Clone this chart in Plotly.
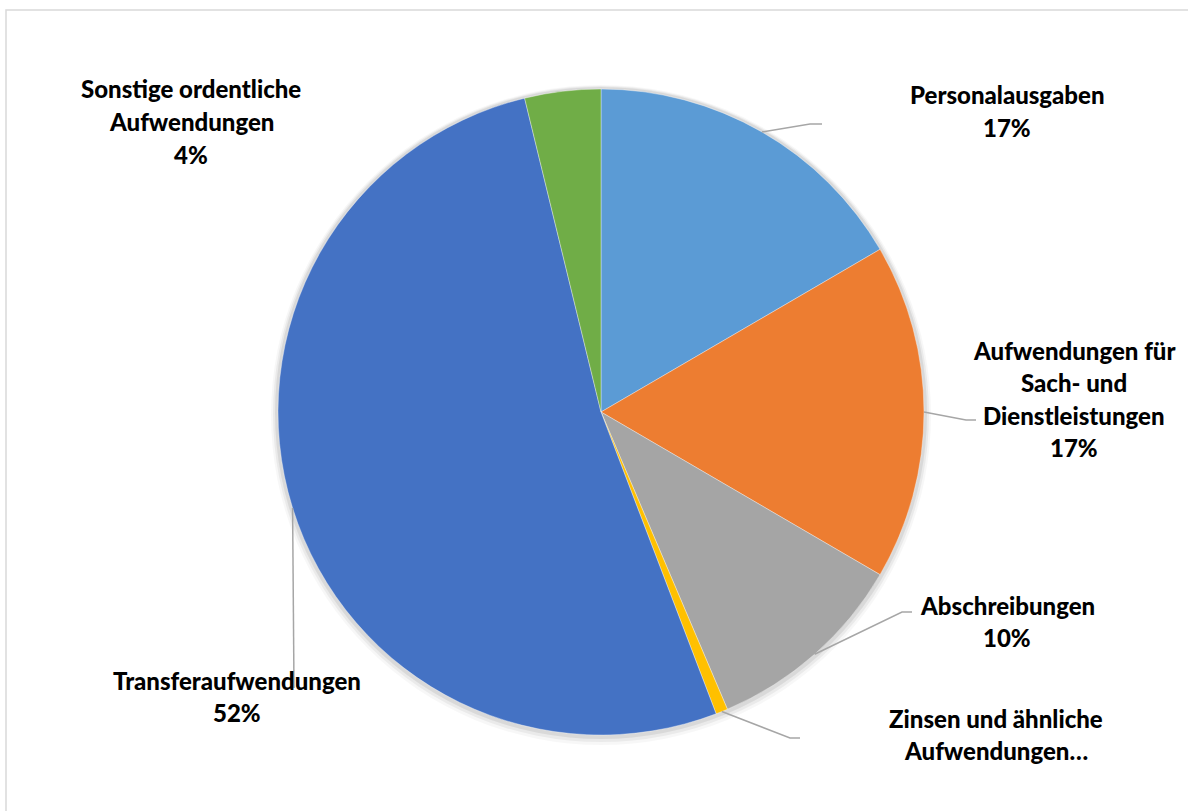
import math
import plotly.graph_objects as go

# ---- data ----
categories = [
    "Personalausgaben",
    "Aufwendungen für Sach- und Dienstleistungen",
    "Abschreibungen",
    "Zinsen und ähnliche Aufwendungen",
    "Transferaufwendungen",
    "Sonstige ordentliche Aufwendungen",
]
values = [16.6, 16.8, 10.2, 0.6, 52.0, 3.8]
label_lines = [
    ["Personalausgaben"],
    ["Aufwendungen für", "Sach- und", "Dienstleistungen"],
    ["Abschreibungen"],
    ["Zinsen und ähnliche", "Aufwendungen…"],
    ["Transferaufwendungen"],
    ["Sonstige ordentliche", "Aufwendungen"],
]
show_percent = [True, True, True, False, True, True]
colors = ["#5B9BD5", "#ED7D31", "#A5A5A5", "#FFC000", "#4472C4", "#70AD47"]

# ---- layout (pixels, screen coordinates) ----
W, H = 1188, 811
CX, CY, R = 601, 412, 323
# label centre x, first-line y, leader elbow (x,y), leader end x (None = no leader)
label_pos = [
    (1007, 95, (810, 124), 822),
    (1074, 350, (966, 420), 976),
    (1007, 605, (902, 612), 912),
    (996, 718, (790, 738), 800),
    (237, 680, (294, 688), None),
    (191, 89, None, None),
]
LINE = 32.5
FONT = dict(family="Lato", size=24, color="#000000", weight=900)


def px(x):
    return x / W


def py(y):
    return 1 - y / H


fig = go.Figure()
fig.add_trace(go.Pie(
    labels=categories,
    values=values,
    sort=False,
    direction="clockwise",
    rotation=0,
    marker=dict(colors=colors, line=dict(color="rgba(255,255,255,0.6)", width=0.6)),
    textinfo="none",
    hoverinfo="label+percent",
    showlegend=False,
    domain=dict(x=[px(CX - R), px(CX + R)], y=[py(CY + R), py(CY - R)]),
))

total = sum(values)
annotations = []
shapes = []

# soft shadow around the pie
for grow, dy, alpha in [(7, 3, 0.03), (5, 2, 0.05), (3, 1, 0.07)]:
    shapes.append(dict(type="circle", xref="paper", yref="paper", layer="below",
                       x0=px(CX - R - grow), x1=px(CX + R + grow),
                       y0=py(CY + R + grow + dy), y1=py(CY - R - grow + dy),
                       line=dict(width=0), fillcolor=f"rgba(0,0,0,{alpha})"))

# chart frame
shapes.append(dict(type="rect", xref="paper", yref="paper",
                   x0=px(6), x1=px(W + 30), y0=py(H + 30), y1=py(10),
                   line=dict(color="#D9D9D9", width=1.5)))

cum = 0.0
for i, v in enumerate(values):
    mid = (cum + v / 2) / total * 2 * math.pi
    cum += v
    lines = list(label_lines[i])
    if show_percent[i]:
        lines.append(f"{round(v / total * 100):.0f}%")
    lx, ly, elbow, endx = label_pos[i]
    for k, t in enumerate(lines):
        annotations.append(dict(x=px(lx), y=py(ly + k * LINE), xref="paper", yref="paper",
                                text=t, showarrow=False, font=FONT,
                                xanchor="center", yanchor="middle"))
    if elbow is not None:
        sx = CX + R * math.sin(mid)
        sy = CY - R * math.cos(mid)
        path = f"M {px(sx)},{py(sy)} L {px(elbow[0])},{py(elbow[1])}"
        if endx is not None:
            path += f" L {px(endx)},{py(elbow[1])}"
        shapes.append(dict(type="path", xref="paper", yref="paper", path=path,
                           line=dict(color="#A6A6A6", width=1.5)))

fig.update_layout(
    width=W, height=H, autosize=False,
    margin=dict(l=0, r=0, t=0, b=0),
    paper_bgcolor="white", plot_bgcolor="white",
    annotations=annotations, shapes=shapes,
)
fig.write_html("out.html",
               config={"displayModeBar": False},
               post_script="document.body.style.margin='0';document.body.style.overflow='hidden';")
